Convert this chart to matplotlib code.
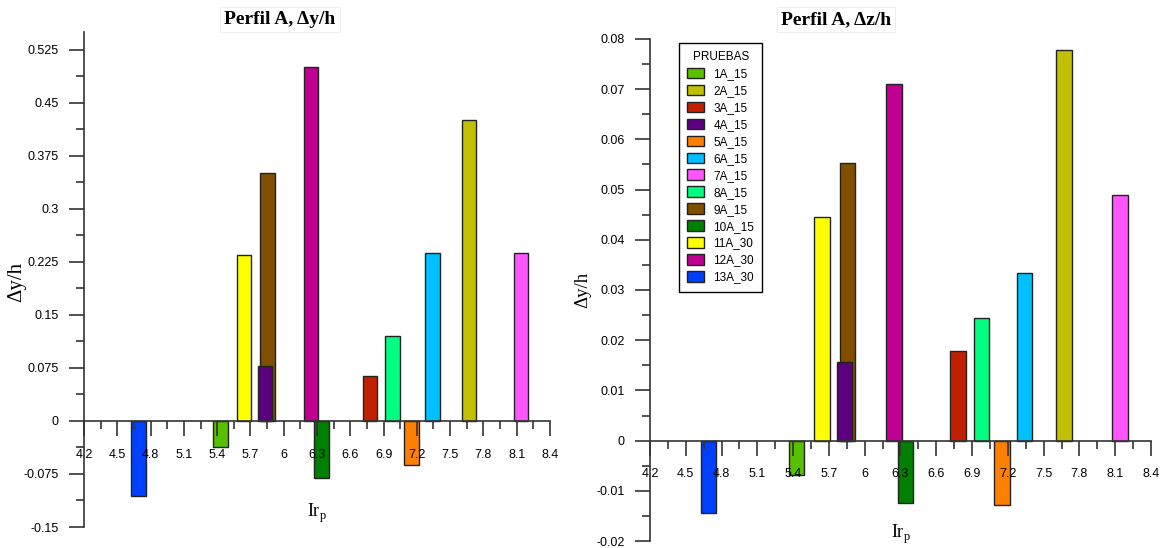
import matplotlib
matplotlib.use("Agg")
import matplotlib.pyplot as plt
from matplotlib.ticker import MultipleLocator, FuncFormatter
from matplotlib.patches import Patch

# Test series (Irp value of each test, displacement ratios)
pruebas = ["1A_15", "2A_15", "3A_15", "4A_15", "5A_15", "6A_15", "7A_15",
           "8A_15", "9A_15", "10A_15", "11A_30", "12A_30", "13A_30"]
irp = [5.43, 7.67, 6.78, 5.83, 7.15, 7.34, 8.14,
       6.98, 5.855, 6.34, 5.64, 6.245, 4.69]
dy_h = [-0.037, 0.425, 0.064, 0.078, -0.062, 0.237, 0.238,
        0.120, 0.351, -0.081, 0.235, 0.500, -0.106]
dz_h = [-0.0068, 0.0778, 0.0178, 0.0156, -0.0129, 0.0333, 0.0489,
        0.0244, 0.0553, -0.0125, 0.0445, 0.0711, -0.0144]
colores = ["#58C000", "#C0C000", "#C02000", "#5C0080", "#FF8000", "#00C0FF",
           "#FF55FF", "#00FF80", "#805000", "#008000", "#FFFF00", "#C00090",
           "#0040FF"]
x_ticks = [4.2, 4.5, 4.8, 5.1, 5.4, 5.7, 6.0, 6.3, 6.6, 6.9, 7.2, 7.5, 7.8, 8.1, 8.4]

SANS = ["Liberation Sans", "DejaVu Sans"]
SERIF = ["Liberation Serif", "DejaVu Serif"]
plt.rcParams["font.family"] = SANS

W, H = 1162, 548
fig = plt.figure(figsize=(W / 100, H / 100), dpi=100)
ax1 = fig.add_axes([84 / W, 21 / H, 466 / W, 495 / H])
ax2 = fig.add_axes([650 / W, 7 / H, 501 / W, 502 / H])


def style_axes(ax, ylim, major, minor, fmt):
    for s in ("top", "right"):
        ax.spines[s].set_visible(False)
    ax.spines["bottom"].set_position(("data", 0))
    for s in ("left", "bottom"):
        ax.spines[s].set_color("#333333")
        ax.spines[s].set_linewidth(1.2)
    ax.set_xlim(4.2, 8.4)
    ax.set_ylim(*ylim)
    ax.set_xticks(x_ticks)
    ax.xaxis.set_minor_locator(MultipleLocator(0.15))
    ax.xaxis.set_major_formatter(FuncFormatter(lambda v, p: f"{v:g}"))
    ax.yaxis.set_major_locator(MultipleLocator(major))
    ax.yaxis.set_minor_locator(MultipleLocator(minor))
    ax.yaxis.set_major_formatter(FuncFormatter(fmt))
    ax.tick_params(axis="both", which="major", direction="out", length=11,
                   width=1.2, color="#333333", labelsize=9, pad=7)
    ax.tick_params(axis="both", which="minor", direction="out", length=6,
                   width=1.2, color="#333333")
    ax.tick_params(axis="x", which="major", pad=9)


def draw_bars(ax, values):
    # shorter bars are drawn in front of taller ones; axis ticks stay on top
    order = sorted(range(len(values)), key=lambda i: -abs(values[i]))
    for z, i in enumerate(order):
        ax.bar(irp[i], values[i], width=0.13, color=colores[i],
               edgecolor="#222222", linewidth=1.0, zorder=1 + z * 0.01)


def fmt_left(v, p):
    if abs(v) < 1e-9:
        return "0"
    return f"{v:.3f}".rstrip("0").rstrip(".")


def fmt_right(v, p):
    if abs(v) < 1e-9:
        return "0"
    return f"{v:.2f}"


def titulo(xc, text):
    fig.text(xc / W, 1 - 19.5 / H, text, family=SERIF, fontsize=14,
             fontweight="bold", ha="center", va="center",
             bbox=dict(facecolor="white", edgecolor="#eeeeee",
                       linewidth=0.8, pad=3))


draw_bars(ax1, dy_h)
style_axes(ax1, (-0.15, 0.55), 0.075, 0.0375, fmt_left)
ax1.text(-0.145, 0.495, "Δy/h", transform=ax1.transAxes, family=SERIF,
         fontsize=15, rotation=90, ha="center", va="center",
         rotation_mode="anchor")
ax1.text(6.3, -0.131, "Ir$_\\mathregular{p}$", family=SERIF, fontsize=13,
         ha="center", va="center")
titulo(280, "Perfil A, Δy/h")

draw_bars(ax2, dz_h)
style_axes(ax2, (-0.02, 0.08), 0.01, 0.005, fmt_right)
ax2.text(-0.134, 0.5, "Δy/h", transform=ax2.transAxes, family=SERIF,
         fontsize=13.5, rotation=90, ha="center", va="center",
         rotation_mode="anchor")
ax2.text(6.3, -0.0186, "Ir$_\\mathregular{p}$", family=SERIF, fontsize=13,
         ha="center", va="center")
titulo(836, "Perfil A, Δz/h")

handles = [Patch(facecolor=c, edgecolor="#222222", linewidth=1.0) for c in colores]
leg = ax2.legend(handles, pruebas, title="PRUEBAS", loc="upper left",
                 bbox_to_anchor=(0.058, 0.992), borderaxespad=0,
                 fontsize=8.5, title_fontsize=8.5,
                 handlelength=1.45, handleheight=1.0, labelspacing=0.39,
                 handletextpad=0.75, borderpad=0.7, fancybox=False,
                 framealpha=1, edgecolor="black")
leg.get_frame().set_linewidth(1.0)

fig.savefig("out.png", dpi=100)
